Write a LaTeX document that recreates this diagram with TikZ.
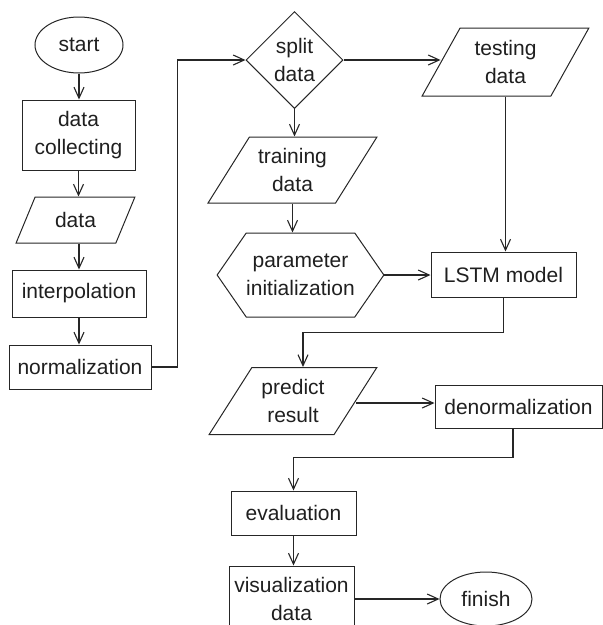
\documentclass[tikz,border=0pt]{standalone}
\usepackage{fontspec}
\setmainfont{Liberation Sans}
\usetikzlibrary{shapes.geometric, shapes.symbols, arrows.meta, calc}

\begin{document}
\begin{tikzpicture}[x=1pt, y=-1pt,
  every node/.style={font=\fontsize{21}{28.5}\selectfont, align=center,
    text=black!88, inner sep=0pt, line width=1pt, draw=black!85},
  box/.style={rectangle, draw},
  term/.style={ellipse, draw},
  decide/.style={diamond, aspect=1, draw},
  io/.style={trapezium, draw, trapezium stretches=true,
    trapezium left angle=#1, trapezium right angle=180-#1},
  prep/.style={signal, signal to=west and east, signal pointer angle=110.6, draw},
  flow/.style={draw=black!85, line width=1.1pt,
    -{Straight Barb[length=11pt,width=10pt,line width=1.1pt]}},
]
\useasboundingbox (0,0) rectangle (603,625);
\clip (0,0) rectangle (603,625);

% left column: acquisition and preprocessing
\node[term, minimum width=88, minimum height=56] (start) at (79,45) {start};
\node[box, minimum width=113, minimum height=70] (collect) at (78.5,135) {data\\collecting};
\node[io=58, minimum width=119, minimum height=46] (data) at (75.5,220) {data};
\node[box, minimum width=134, minimum height=47] (interp) at (79,293.5) {interpolation};
\node[box, minimum width=142, minimum height=44] (norm) at (80,367) {normalization};

% middle and right: splitting and the model
\node[decide, minimum width=97, minimum height=97] (split) at (294.5,60) {split\\data};
\node[io=59.5, minimum width=167, minimum height=68] (testing) at (505.5,62) {testing\\data};
\node[io=53, minimum width=169, minimum height=66] (training) at (292.5,170) {training\\data};
\node[prep, minimum width=155, minimum height=84] (param) at (300.5,275) {parameter\\initialization};
\node[box, minimum width=145, minimum height=45] (lstm) at (503.5,274.5) {LSTM model};

% results and post-processing
\node[io=53.3, minimum width=168, minimum height=67] (predict) at (293,401) {predict\\result};
\node[box, minimum width=167, minimum height=43] (denorm) at (518.5,406.5) {denormalization};
\node[box, minimum width=125, minimum height=44] (eval) at (293.5,513) {evaluation};
\node[box, minimum width=125, minimum height=66] (vis) at (291.5,599) {visualization\\data};
\node[term, minimum width=92, minimum height=54] (finish) at (486,599) {finish};

% connector end points that sit off the standard anchors
\coordinate (predictout) at ($(predict.right side)+(0,2)$);
\coordinate (predictin) at ($(predict.north)+(10,0)$);
\coordinate (denormout) at ($(denorm.south)+(-5.5,0)$);

% connectors
\draw[flow] (start.south) -- (start.south |- collect.north);
\draw[flow] (collect.south) -- (collect.south |- data.north);
\draw[flow] (interp.north |- data.south) -- (interp.north);
\draw[flow] (interp.south) -- (interp.south |- norm.north);
\draw[flow] (norm.east) -- ++(26,0) |- (split.west);
\draw[flow] (split.east) -- (split.east -| testing.left side);
\draw[flow] (split.south) -- (split.south |- training.north);
\draw[flow] (training.south) -- (training.south |- param.north);
\draw[flow] (param.east) -- (param.east -| lstm.west);
\draw[flow] (testing.south) -- (testing.south |- lstm.north);
\draw[flow] (lstm.south) -- ++(0,35) -| (predictin);
\draw[flow] (predictout) -- (predictout -| denorm.west);
\draw[flow] (denormout) -- ++(0,29) -| (eval.north);
\draw[flow] (eval.south) -- (eval.south |- vis.north);
\draw[flow] (vis) -- (finish);
\end{tikzpicture}
\end{document}
